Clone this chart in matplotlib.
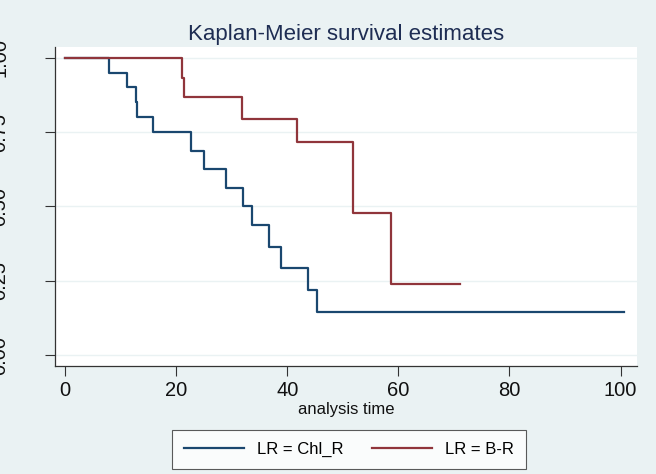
"""Kaplan-Meier survival estimates by LR group (Stata s2color look)."""
import matplotlib
matplotlib.use("Agg")
import matplotlib.pyplot as plt

# step times and survival values
chl_times = [0, 7.9, 11.1, 12.7, 13.0, 15.9, 22.6, 25.1, 28.9, 32.0, 33.7, 36.7, 38.8, 43.8, 45.3, 100.7]
chl_surv = [1.0, 0.95, 0.90, 0.85, 0.80, 0.75, 0.6875, 0.625, 0.5625, 0.5, 0.4375, 0.3646, 0.2917, 0.2188, 0.1458, 0.1458]

br_times = [0, 21.1, 21.5, 31.8, 41.7, 51.9, 58.6, 71.1]
br_surv = [1.0, 0.933, 0.867, 0.794, 0.715, 0.477, 0.238, 0.238]

x_ticks = [0, 20, 40, 60, 80, 100]
y_ticks = [0.0, 0.25, 0.5, 0.75, 1.0]

BG = "#EAF2F3"
BLUE = "#1A476F"
RED = "#90353B"

plt.rcParams["font.family"] = ["Liberation Sans", "DejaVu Sans"]

fig = plt.figure(figsize=(6.56, 4.74), dpi=100, facecolor=BG)
ax = fig.add_axes([0.0838, 0.2278, 0.8868, 0.673])
ax.set_facecolor("white")

ax.step(chl_times, chl_surv, where="post", color=BLUE, lw=1.6, label="LR = Chl_R", zorder=3)
ax.step(br_times, br_surv, where="post", color=RED, lw=1.6, label="LR = B-R", zorder=4)

ax.set_xlim(-1.8, 102.9)
ax.set_ylim(-0.037, 1.036)
ax.set_xticks(x_ticks)
ax.set_yticks(y_ticks)
ax.set_yticklabels([f"{v:.2f}" for v in y_ticks], rotation=90, va="center")
ax.tick_params(axis="both", direction="out", length=7, width=0.8, color="#333333",
               labelsize=14.5, labelcolor="#111111")
ax.tick_params(axis="y", pad=26)
ax.tick_params(axis="x", pad=4)
ax.grid(axis="y", color=BG, lw=1.0, zorder=0)

for side in ("top", "right"):
    ax.spines[side].set_visible(False)
for side in ("left", "bottom"):
    ax.spines[side].set_color("#333333")
    ax.spines[side].set_linewidth(0.9)

ax.set_xlabel("analysis time", fontsize=12, color="#111111", labelpad=1)
ax.set_title("Kaplan-Meier survival estimates", fontsize=16, color="#1E2D53", pad=5)

fig.legend(loc="center", bbox_to_anchor=(0.532, 0.0517), ncol=2, fontsize=12,
           frameon=True, fancybox=False, edgecolor="#333333", facecolor="white",
           handlelength=3.6, columnspacing=1.7, borderpad=0.7)
fig.legends[0].get_frame().set_linewidth(0.8)

fig.savefig("out.png", dpi=100, facecolor=BG)
